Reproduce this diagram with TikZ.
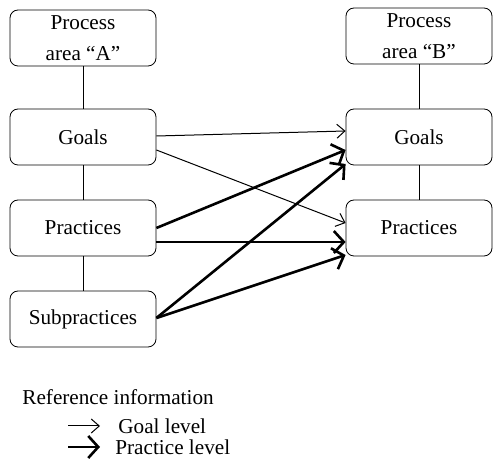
\documentclass[tikz,border=0pt]{standalone}
\usepackage{fontspec}
\setmainfont{Liberation Serif}
\usepackage{tikz}
\usetikzlibrary{arrows.meta}

\tikzset{
    area/.style={draw, rectangle, rounded corners=4pt, minimum width=73pt, minimum height=28pt, align=center, inner sep=1pt},
    goallink/.style={line width=0.5pt, -{Straight Barb[length=4pt, width=7pt]}},
    practicelink/.style={line width=1.3pt, -{Straight Barb[length=5pt, width=11pt, line width=1.3pt]}}
}

\begin{document}
\begin{tikzpicture}[x=0.5pt, y=-0.5pt, font=\fontsize{10.6}{13}\selectfont]
        \useasboundingbox (0,0) rectangle (493,464);

        % Define nodes for process area A
        \node[area] (PA) at (83,38) {Process\\[2.5pt]area “A”};
        \node[area] (GA) at (83,137) {Goals};
        \node[area] (RA) at (83,228) {Practices};
        \node[area] (SA) at (83,319) {Subpractices};

        % Define nodes for process area B
        \node[area] (PB) at (419,36) {Process\\[2.5pt]area “B”};
        \node[area] (GB) at (419,137) {Goals};
        \node[area] (RB) at (419,228) {Practices};

        % Define hierarchy lines
        \draw[line width=0.5pt] (PA) -- (GA);
        \draw[line width=0.5pt] (GA) -- (RA);
        \draw[line width=0.5pt] (RA) -- (SA);
        \draw[line width=0.5pt] (PB) -- (GB);
        \draw[line width=0.5pt] (GB) -- (RB);

        % Define goal level references
        \draw[goallink] ([yshift=0.5pt]GA.east) -- ([yshift=3pt]GB.west);
        \draw[goallink] ([yshift=-6.5pt]GA.east) -- ([yshift=2.5pt]RB.west);

        % Define practice level references
        \draw[practicelink] (RA.east) -- ([yshift=-6.5pt]GB.west);
        \draw[practicelink] ([yshift=-7pt]RA.east) -- ([yshift=-7pt]RB.west);
        \draw[practicelink] ([yshift=0.5pt]SA.east) -- ([yshift=-13.5pt]GB.west);
        \draw[practicelink] ([yshift=0.5pt]SA.east) -- ([yshift=-13.5pt]RB.west);

        % Define legend
        \node[anchor=west, inner sep=0pt] (RI) at (22,397) {Reference information};
        \node[anchor=west, inner sep=0pt] (GL) at (118,426) {Goal level};
        \node[anchor=west, inner sep=0pt] (PL) at (115,447) {Practice level};
        \coordinate (gl) at (68,426);
        \coordinate (pl) at (68,447);

        \draw[goallink, shorten >=9pt] (gl) -- (GL.west);
        \draw[practicelink, shorten >=7.5pt] (pl) -- (PL.west);
    \end{tikzpicture}
\end{document}
